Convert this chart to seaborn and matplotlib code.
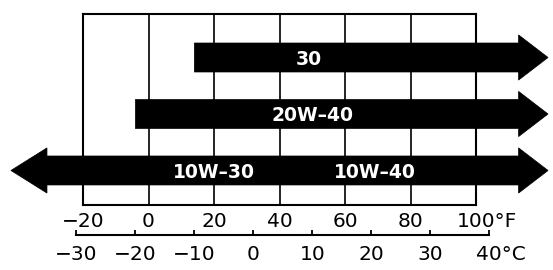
import matplotlib
matplotlib.use("Agg")
import matplotlib.pyplot as plt
import matplotlib.transforms as mtransforms
from matplotlib.patches import Polygon
import seaborn as sns

# ---------------- data ----------------
row_names = ["10W", "20W-40", "30"]          # bottom to top
range_low_f = [-42, -4, 14]                   # coldest end of each arrow (°F)
range_high_f = [122, 122, 122]                # warmest end (°F)
open_low = [True, False, False]               # arrow head on the cold side too
label_texts = ["10W–30", "10W–40", "20W–40", "30"]
label_rows = ["10W", "10W", "20W-40", "30"]
label_f = [20, 69, 50, 49]
f_ticks = [-20, 0, 20, 40, 60, 80, 100]
f_labels = ["−20", "0", "20", "40", "60", "80", "100°F"]
c_ticks = [-30, -20, -10, 0, 10, 20, 30, 40]
c_labels = ["−30", "−20", "−10", "0", "10", "20", "30", "40°C"]

# ---------------- style ----------------
sns.set_theme(style="white")
plt.rcParams["font.family"] = ["DejaVu Sans"]

W, H = 553, 270
fig = plt.figure(figsize=(W / 100, H / 100), dpi=100)
fig.patch.set_facecolor("white")

box_l, box_r, box_t, box_b = 83, 476, 14, 205
ax = fig.add_axes([box_l / W, 1 - box_b / H, (box_r - box_l) / W, (box_b - box_t) / H])
ax.set_facecolor("white")
ax.set_xlim(f_ticks[0], f_ticks[-1])
ax.set_ylim(-0.611, 2.770)

ax.set_xticks(f_ticks)
ax.set_xticklabels(f_labels)
ax.set_yticks([])
ax.grid(axis="x", color="black", linewidth=1.2)
ax.grid(axis="y", visible=False)
ax.set_axisbelow(True)
for s in ax.spines.values():
    s.set_visible(True)
    s.set_color("black")
    s.set_linewidth(1.5)
ax.tick_params(axis="x", length=0, pad=5, labelsize=14.5, colors="black")

# arrows
body_h = 0.513
head_h = 0.80
head_len_r = 9.0
head_len_l = 11.0
for name, lo, hi, both in zip(row_names, range_low_f, range_high_f, open_low):
    y = row_names.index(name)
    b, h = body_h / 2, head_h / 2
    pts = []
    if both:
        pts += [(lo, y), (lo + head_len_l, y + h), (lo + head_len_l, y + b)]
    else:
        pts += [(lo, y - b), (lo, y + b)]
    pts += [(hi - head_len_r, y + b), (hi - head_len_r, y + h), (hi, y),
            (hi - head_len_r, y - h), (hi - head_len_r, y - b)]
    if both:
        pts += [(lo + head_len_l, y - b), (lo + head_len_l, y - h)]
    ax.add_patch(Polygon(pts, closed=True, facecolor="black", edgecolor="black",
                         linewidth=0.5, clip_on=False, zorder=3))

for txt, rn, fx in zip(label_texts, label_rows, label_f):
    ax.text(fx, row_names.index(rn) - 0.03, txt, color="white", fontsize=13.5,
            fontweight="bold", ha="center", va="center", zorder=4)

# Celsius scale
def f2c(f):
    return (f - 32) * 5 / 9

def c2f(c):
    return c * 9 / 5 + 32

def fx_pix(f):
    return box_l + (f - f_ticks[0]) * (box_r - box_l) / (f_ticks[-1] - f_ticks[0])

c_left = fx_pix(c2f(c_ticks[0]))
c_right = fx_pix(c2f(c_ticks[-1]))
c_y = 235
cax = fig.add_axes([c_left / W, 1 - c_y / H, (c_right - c_left) / W, 0.02])
cax.patch.set_alpha(0)
cax.set_xlim(c_ticks[0], c_ticks[-1])
cax.set_xticks(c_ticks)
cax.set_xticklabels(c_labels)
cax.set_yticks([])
for k in ["top", "left", "right"]:
    cax.spines[k].set_visible(False)
cax.spines["bottom"].set_visible(True)
cax.spines["bottom"].set_color("black")
cax.spines["bottom"].set_linewidth(1.5)
cax.tick_params(axis="x", direction="in", length=3.6, width=1.3, pad=7,
                labelsize=14.5, colors="black", bottom=True)

# shift the unit-bearing last labels so the number sits on the tick
renderer = fig.canvas.get_renderer()
def shift_last(axis_obj, number_text):
    lab = axis_obj.get_xticklabels()[-1]
    tmp = fig.text(0, 0, number_text, fontsize=14.5)
    w = tmp.get_window_extent(renderer).width
    tmp.remove()
    lab.set_horizontalalignment("left")
    lab.set_transform(lab.get_transform() +
                      mtransforms.ScaledTranslation(-w / 2 / fig.dpi, 0, fig.dpi_scale_trans))

shift_last(ax, "100")
shift_last(cax, "40")

fig.savefig("out.png", dpi=100, facecolor="white")
